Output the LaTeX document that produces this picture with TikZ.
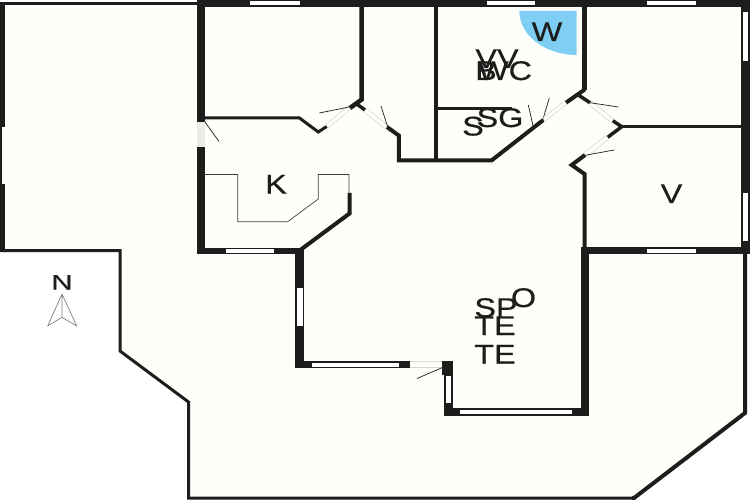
\documentclass[tikz,border=0pt]{standalone}
\usepackage{fontspec}
\newfontfamily\planfont[FakeStretch=1.2,FakeBold=0.4]{Liberation Sans}
\newfontfamily\northfont[FakeStretch=1.4,FakeBold=0.4]{Liberation Sans}
\definecolor{wallc}{HTML}{1D1D1B}
\definecolor{floorc}{HTML}{FEFFFA}
\definecolor{tilec}{HTML}{7FCEF4}
\definecolor{doorc}{HTML}{D8D8D2}
\tikzset{
  solidwall/.style={fill=wallc,draw=none},
  wallline/.style={draw=wallc,line join=miter,line cap=butt},
  win/.style={fill=white,draw=none},
  doorleaf/.style={draw=doorc,line width=0.6pt},
  swing/.style={draw=wallc,line width=0.7pt},
  fixture/.style={draw=wallc!85,line width=0.7pt},
  lbl/.style={font=\planfont\fontsize{27}{27}\selectfont,text=wallc,inner sep=0pt,anchor=base}
}
\begin{document}
\begin{tikzpicture}[x=1pt,y=-1pt]
\useasboundingbox (0,0) rectangle (750,500);
\fill[white] (0,0) rectangle (750,500);
% floor
\fill[floorc] (0,3) -- (750,0) -- (747,413) -- (634,498) -- (188.5,498) -- (188.5,402) -- (120,351) -- (120,250) -- (0,250) -- cycle;
% blue area
\fill[tilec] (576.7,11) -- (519.3,11) .. controls (519.3,35.3) and (545,55) .. (576.7,55) -- cycle;
% outer thin walls
\draw[wallline,line width=3pt] (0,250.5) -- (120,250.5) -- (120,351) -- (188.5,402) -- (188.5,498) -- (634,498);
\draw[wallline,line width=4pt] (632,498) -- (634,498) -- (745,413) -- (745,254);
\draw[wallline,line width=3pt] (0,3.5) -- (197,3.5);
% left wall
\fill[solidwall] (0,3) rectangle (5,127);
\fill[solidwall] (0,184) rectangle (5,252);
\fill[solidwall] (0,127) rectangle (2,184);
% main top wall and right wall
\fill[solidwall] (197,0) rectangle (750,7);
\fill[solidwall] (741,0) rectangle (750,254);
\fill[win] (250,1) rectangle (300,5);
\fill[win] (487,1) rectangle (535,5);
\fill[win] (647,1) rectangle (696,5);
\fill[win] (742.5,12) rectangle (748,61);
\fill[win] (742.5,193) rectangle (748,241);
% west wall of house
\fill[solidwall] (197,0) rectangle (205,122);
\fill[solidwall] (197,147) rectangle (205,254);
\fill[solidwall] (197,248) rectangle (302,254);
\fill[win] (226,249) rectangle (274,253);
% south-east bedroom walls
\fill[solidwall] (581,247) rectangle (750,254);
\fill[win] (647,248.5) rectangle (696,253);
\fill[solidwall] (581,247) rectangle (589,415.5);
% living room walls
\fill[solidwall] (295,249) rectangle (304,368);
\fill[win] (297,288) rectangle (303,326);
\fill[solidwall] (295,361) rectangle (410,368);
\fill[win] (312,362.5) rectangle (399,367);
\fill[solidwall] (442,361) rectangle (452.5,375);
\fill[solidwall] (443.5,361) rectangle (452.5,415.5);
\fill[win] (445.5,376) rectangle (451,403);
\fill[solidwall] (443.5,408) rectangle (589,415.5);
\fill[win] (460,409.5) rectangle (572,414);
\draw[doorc,line width=0.6pt] (410,361.5) -- (442,361.5) (410,367.5) -- (442,367.5);
\draw[swing] (417,378.5) -- (442.5,367.5);
% kitchen
\draw[wallline,line width=4pt] (301,249.5) -- (349.5,213.5) -- (349.5,193);
\draw[fixture] (205,174.5) -- (237.7,174.5) -- (237.7,221.7) -- (287.7,221.7) -- (318.3,199) -- (318.3,174.5) -- (349,174.5) -- (349,193);
\fill[doorc!50!floorc] (197,122) rectangle (205,147);
\draw[swing] (205,122) -- (219,141.5);
% inner walls
\draw[wallline,line width=3pt] (205,118) -- (299.5,118) -- (318.3,132) -- (326.7,126.5);
\draw[doorleaf] (326,124.5) -- (348.5,105.5) (328,128) -- (351,109);
\draw[wallline,line width=4.5pt] (361.7,7) -- (361.7,99.5) -- (350,108);
\draw[wallline,line width=3.5pt] (356.7,104) -- (365,110);
\draw[swing] (319.3,113) -- (349,107);
\draw[doorleaf] (367,108.5) -- (388,125.5) (363.5,111.5) -- (385,129);
\draw[swing] (381,106) -- (387.7,127);
\draw[wallline,line width=4pt] (387,127) -- (398.8,135.5) -- (398.8,160.5) -- (491.5,160.5) -- (543.3,120);
\draw[wallline,line width=4pt] (436.3,7) -- (436.3,160);
\draw[wallline,line width=3.3pt] (438,108.3) -- (511.7,108.3);
\draw[swing] (528.3,105) -- (533.3,127);
\draw[swing] (549.3,98) -- (542.7,120);
\draw[doorleaf] (542,118.5) -- (565,100.5) (544.5,121.5) -- (567,104);
\draw[wallline,line width=5pt] (584.5,7) -- (584.5,90);
\draw[wallline,line width=4pt] (566,102.7) -- (585,89.3);
\draw[wallline,line width=3.5pt] (578.3,95) -- (590,102.7);
\draw[doorleaf] (591.5,101) -- (613.5,119) (588.5,104.5) -- (610.5,122);
\draw[swing] (590,102.7) -- (618.3,107);
\draw[wallline,line width=3.5pt] (612.7,120.7) -- (621.7,126.7) -- (607.7,137.3);
\draw[wallline,line width=3pt] (621,126.5) -- (741,126.5);
\draw[doorleaf] (606,135.5) -- (583.5,153) (609,139) -- (586.5,157);
\draw[swing] (585,155.3) -- (614.3,150);
\draw[wallline,line width=4pt] (585,155) -- (571.7,165) -- (584.5,174) -- (584.5,247);
% north arrow
\draw[gray,line width=0.7pt,line join=round] (62,294) -- (47.7,326) -- (62,317.3) -- (76.7,326) -- cycle (62,294) -- (62,317.3);
% labels
\node[lbl] (w) at (547,41) {W};
\node[lbl] (vv) at (497,68) {VV};
\node[lbl] (b) at (486,80) {B};
\node[lbl] (wc) at (505,80) {WC};
\node[lbl] (sg) at (500,127) {SG};
\node[lbl] (s) at (473,135.5) {S};
\node[lbl] (k) at (276,193.5) {K};
\node[lbl] (v) at (671.5,203) {V};
\node[lbl] (sp) at (496,317) {SP};
\node[lbl] (o) at (523.5,307) {O};
\node[lbl] (te) at (495,335) {TE};
\node[lbl] (te2) at (495,363.5) {TE};
\node[lbl,font=\northfont\fontsize{21}{21}\selectfont] (n) at (62,289.5) {N};
\end{tikzpicture}
\end{document}
